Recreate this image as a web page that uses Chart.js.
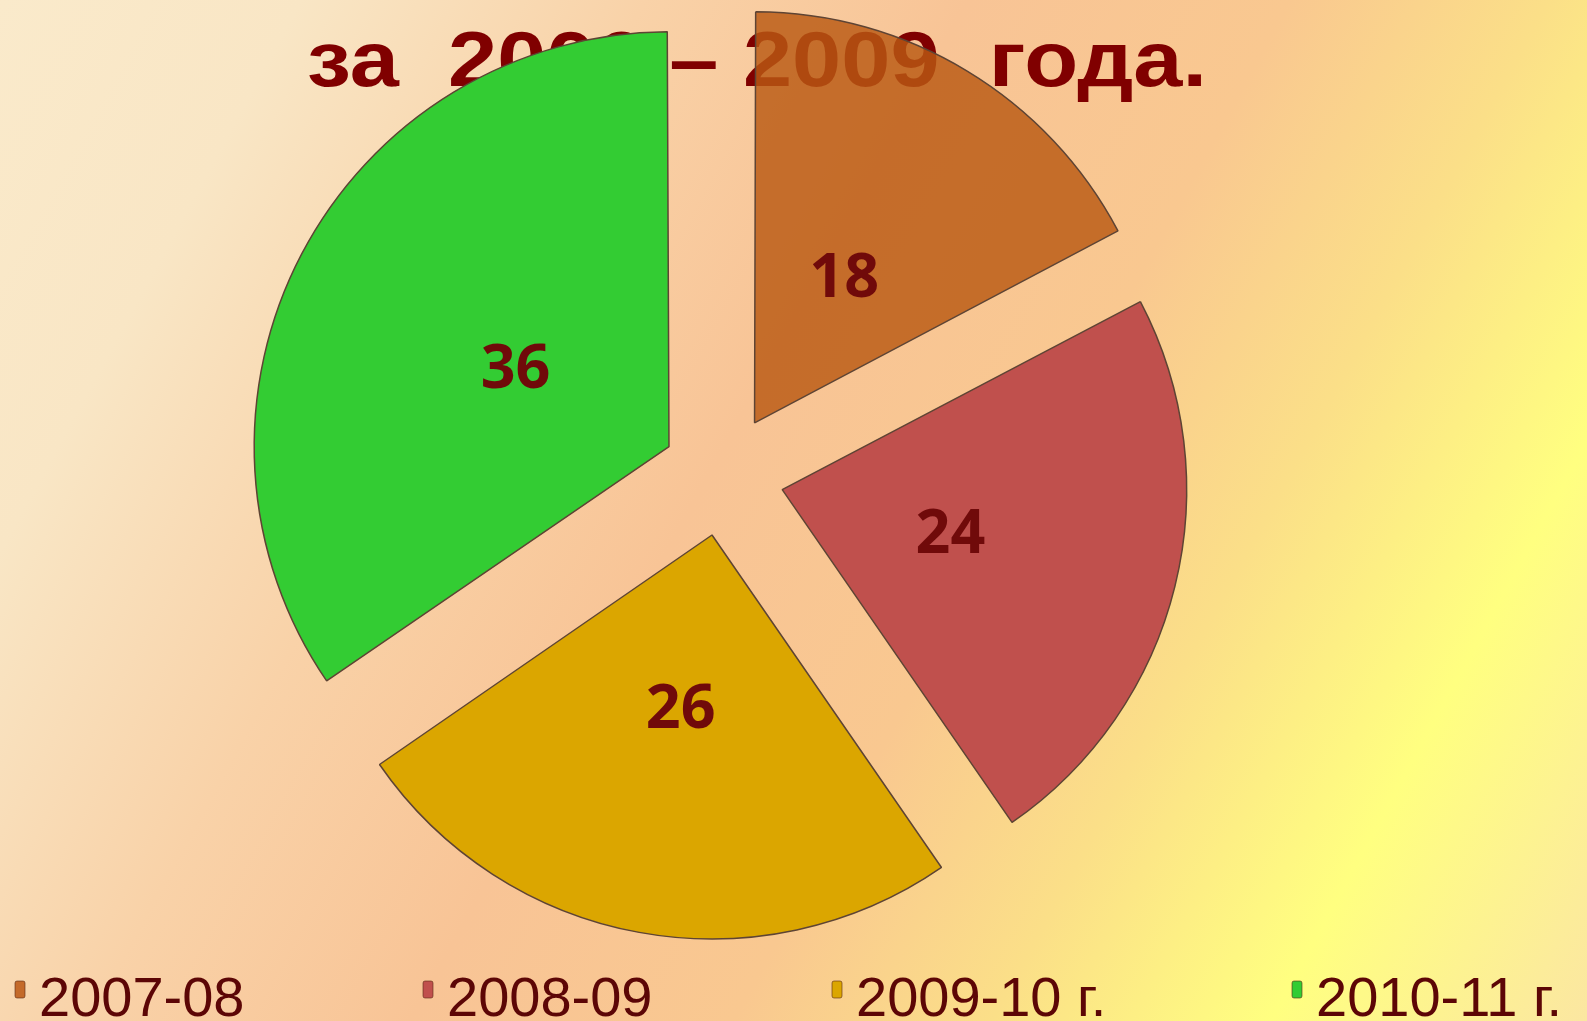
<!DOCTYPE html>
<html>
<head>
<meta charset="utf-8">
<script src="https://cdn.jsdelivr.net/npm/chart.js@4.4.1/dist/chart.umd.min.js"></script>
<style>
  html, body { margin: 0; padding: 0; overflow: hidden; }
  #wrap { width: 1587px; height: 1021px; position: relative; }
</style>
</head>
<body>
<div id="wrap"><canvas id="myPieChart"></canvas></div>
<script>
// dati del grafico
const labels = ["2007-08", "2008-09", "2009-10 г.", "2010-11 г."];
const values = [18, 24, 26, 36];
const sliceColors = ["rgba(185,89,18,0.82)", "#c0504d", "#dba600", "#33cc33"];
const legendColors = ["#c46a2a", "#c0504d", "#dba600", "#33cc33"];
const titleText = "за  2006 – 2009  года.";

// sfondo sfumato
const background = {
  id: "background",
  beforeDraw(chart) {
    const c = chart.ctx;
    const g = c.createLinearGradient(0, 0, 1657, 904);
    g.addColorStop(0, "#faeacb");
    g.addColorStop(0.14, "#f9e6c5");
    g.addColorStop(0.3, "#f9d2a8");
    g.addColorStop(0.45, "#f8c496");
    g.addColorStop(0.6, "#f9c890");
    g.addColorStop(0.72, "#fbdf88");
    g.addColorStop(0.85, "#ffff80");
    g.addColorStop(1, "#fbe6a2");
    c.save();
    c.fillStyle = g;
    c.fillRect(0, 0, chart.width, chart.height);
    c.restore();
  }
};

// titolo sotto le fette
const title = {
  id: "titleBehind",
  beforeDatasetsDraw(chart) {
    const c = chart.ctx;
    c.save();
    c.font = "bold 78px 'Liberation Sans', Arial, sans-serif";
    c.fillStyle = "#800000";
    c.textBaseline = "alphabetic";
    const w = c.measureText(titleText).width;
    c.translate(307, 86);
    c.scale(900 / w, 1);
    c.fillText(titleText, 0, 0);
    c.restore();
  }
};

// etichette dei valori
const valueLabels = {
  id: "valueLabels",
  afterDatasetsDraw(chart) {
    const c = chart.ctx;
    const meta = chart.getDatasetMeta(0);
    c.save();
    c.font = "bold 61px 'Noto Sans', sans-serif";
    c.fillStyle = "#700a0a";
    c.textAlign = "center";
    c.textBaseline = "middle";
    meta.data.forEach((arc, i) => {
      const mid = (arc.startAngle + arc.endAngle) / 2;
      const r = arc.outerRadius * 0.58;
      c.fillText(String(values[i]), arc.x + Math.cos(mid) * r, arc.y + Math.sin(mid) * r + 5);
    });
    c.restore();
  }
};

// legenda in basso
const legendRow = {
  id: "legendRow",
  afterDraw(chart) {
    const c = chart.ctx;
    const xs = [15, 423, 832, 1292];
    c.save();
    c.font = "56px 'Liberation Sans', Arial, sans-serif";
    c.textBaseline = "alphabetic";
    labels.forEach((lab, i) => {
      c.fillStyle = legendColors[i];
      c.strokeStyle = "rgba(90,40,20,0.6)";
      c.lineWidth = 1;
      c.beginPath();
      c.roundRect(xs[i], 981, 10, 17, 2);
      c.fill();
      c.stroke();
      c.fillStyle = "#5c0606";
      c.fillText(lab, xs[i] + 24, 1016);
    });
    c.restore();
  }
};

const ctx = document.getElementById("myPieChart").getContext("2d");
const myPieChart = new Chart(ctx, {
  type: "pie",
  data: {
    labels: labels,
    datasets: [
      {
        data: values,
        backgroundColor: sliceColors,
        borderColor: "#5e4434",
        borderWidth: 1.5,
        hoverBorderWidth: 1.5,
        offset: 244,
        hoverOffset: 0
      }
    ]
  },
  options: {
    responsive: true,
    maintainAspectRatio: false,
    animation: false,
    events: [],
    radius: 404,
    layout: { padding: { top: 37, bottom: 108, left: 6, right: 147 } },
    plugins: {
      legend: { display: false },
      tooltip: { enabled: false },
      title: { display: false }
    }
  },
  plugins: [background, title, valueLabels, legendRow]
});
</script>
</body>
</html>
